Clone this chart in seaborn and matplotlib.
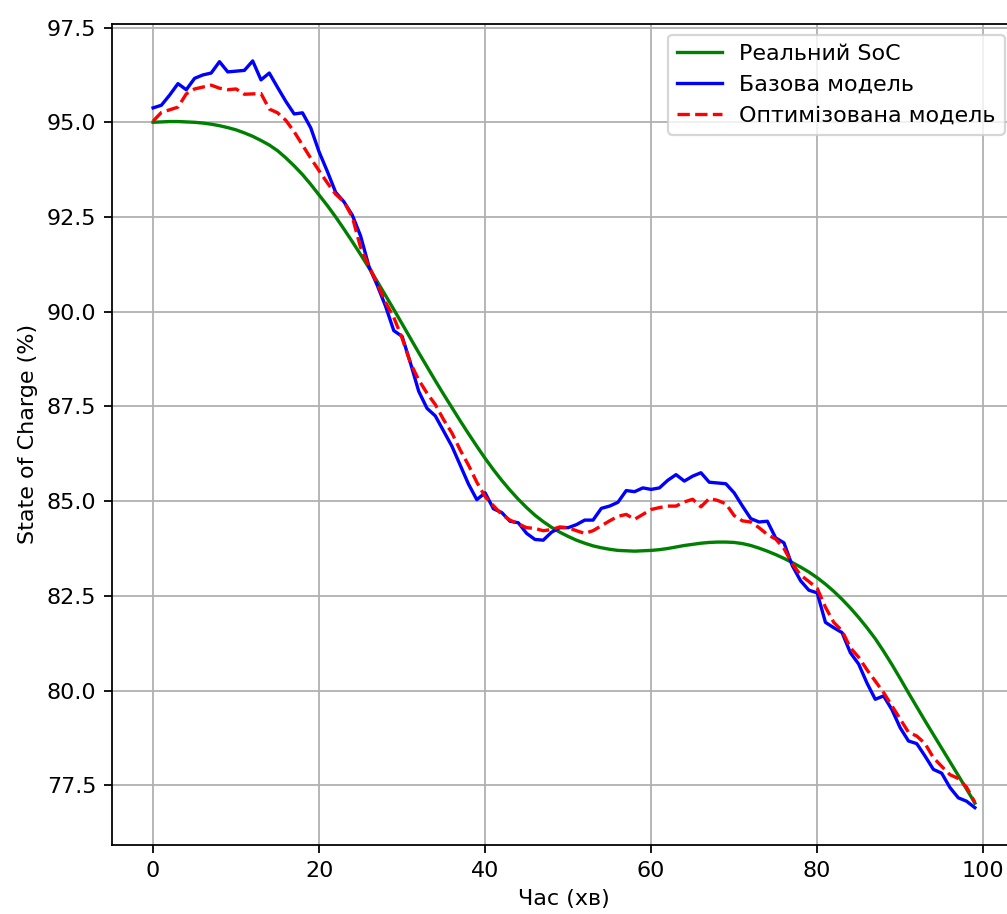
import matplotlib
matplotlib.use('Agg')
import matplotlib.pyplot as plt
import seaborn as sns
import pandas as pd

# 1. Data
# ------------------------------------

minutes = list(range(100))

real_soc = [
    95.00, 95.01, 95.02, 95.02, 95.01, 95.00, 94.98, 94.95, 94.91, 94.86,
    94.80, 94.72, 94.63, 94.52, 94.40, 94.25, 94.06, 93.85, 93.62, 93.36,
    93.08, 92.80, 92.50, 92.18, 91.85, 91.51, 91.16, 90.80, 90.43, 90.06,
    89.68, 89.30, 88.92, 88.55, 88.18, 87.82, 87.47, 87.12, 86.78, 86.45,
    86.13, 85.83, 85.55, 85.29, 85.05, 84.83, 84.63, 84.46, 84.31, 84.18,
    84.07, 83.97, 83.89, 83.82, 83.77, 83.73, 83.70, 83.69, 83.68, 83.69,
    83.70, 83.72, 83.75, 83.79, 83.83, 83.86, 83.89, 83.91, 83.92, 83.92,
    83.91, 83.88, 83.83, 83.76, 83.68, 83.59, 83.49, 83.38, 83.26, 83.13,
    82.98, 82.81, 82.62, 82.41, 82.18, 81.93, 81.66, 81.37, 81.04, 80.69,
    80.32, 79.94, 79.57, 79.20, 78.84, 78.48, 78.12, 77.76, 77.40, 77.03,
]

base_model = [
    95.38, 95.45, 95.72, 96.02, 95.86, 96.16, 96.25, 96.30, 96.60, 96.33,
    96.35, 96.37, 96.62, 96.12, 96.30, 95.92, 95.55, 95.22, 95.25, 94.85,
    94.22, 93.70, 93.15, 92.90, 92.55, 92.00, 91.20, 90.70, 90.15, 89.50,
    89.35, 88.65, 87.90, 87.45, 87.25, 86.85, 86.45, 85.95, 85.45, 85.04,
    85.22, 84.80, 84.70, 84.47, 84.43, 84.15, 83.99, 83.97, 84.18, 84.30,
    84.30, 84.38, 84.50, 84.50, 84.81, 84.87, 84.97, 85.28, 85.25, 85.35,
    85.31, 85.35, 85.55, 85.70, 85.53, 85.66, 85.75, 85.50, 85.48, 85.46,
    85.22, 84.87, 84.54, 84.45, 84.47, 84.03, 83.90, 83.30, 82.90, 82.65,
    82.58, 81.80, 81.66, 81.53, 81.00, 80.70, 80.20, 79.77, 79.86, 79.50,
    79.02, 78.67, 78.60, 78.27, 77.92, 77.82, 77.44, 77.17, 77.08, 76.91,
]

optimized_model = [
    95.03, 95.26, 95.33, 95.40, 95.75, 95.88, 95.93, 95.98, 95.90, 95.86,
    95.88, 95.74, 95.75, 95.76, 95.35, 95.25, 95.05, 94.75, 94.40, 94.05,
    93.72, 93.40, 93.10, 92.90, 92.50, 91.70, 91.20, 90.75, 90.25, 89.85,
    89.30, 88.65, 88.20, 87.85, 87.55, 87.15, 86.80, 86.35, 85.95, 85.50,
    85.12, 84.88, 84.65, 84.50, 84.40, 84.30, 84.28, 84.22, 84.25, 84.32,
    84.30, 84.22, 84.15, 84.22, 84.35, 84.48, 84.60, 84.65, 84.52, 84.65,
    84.78, 84.83, 84.87, 84.87, 84.98, 85.05, 84.85, 85.07, 85.02, 84.93,
    84.62, 84.48, 84.45, 84.30, 84.12, 84.00, 83.75, 83.35, 83.05, 82.88,
    82.70, 82.20, 81.80, 81.58, 81.13, 80.88, 80.55, 80.25, 79.95, 79.60,
    79.25, 78.90, 78.80, 78.60, 78.23, 78.00, 77.78, 77.68, 77.45, 77.05,
]

df = pd.DataFrame({
    'minute': minutes,
    'real': real_soc,
    'base': base_model,
    'opt': optimized_model,
})

# 2. Plot
# -------

dpi = 160
fig = plt.figure(figsize=(1007 / dpi, 914 / dpi), dpi=dpi)
# the reference is a crop: right spine and title fall outside the picture
ax = fig.add_axes([0.1112, 0.0755, 0.8977, 0.8987])

sns.lineplot(data=df, x='minute', y='real', color='green', label='Реальний SoC', ax=ax)
sns.lineplot(data=df, x='minute', y='base', color='blue', label='Базова модель', ax=ax)
sns.lineplot(data=df, x='minute', y='opt', color='red', linestyle='--',
             label='Оптимізована модель', ax=ax)

ax.set_xlabel('Час (хв)')
ax.set_ylabel('State of Charge (%)')
ax.grid(True)
ax.legend(loc='upper right')

fig.savefig('out.png', dpi=dpi)
